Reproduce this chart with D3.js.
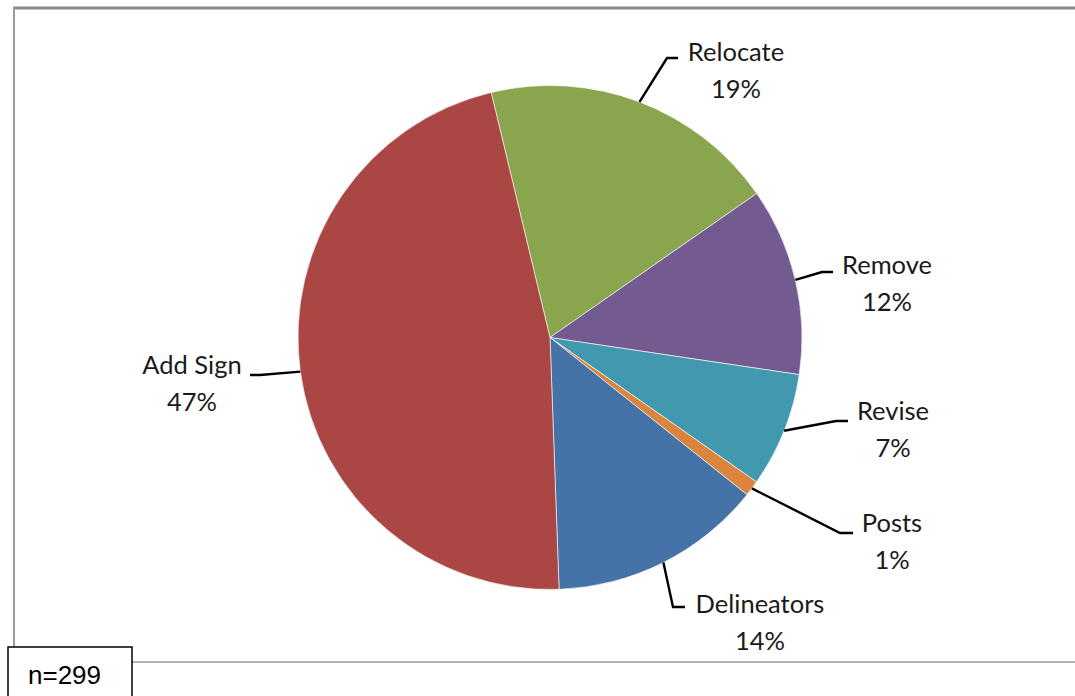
<!DOCTYPE html>
<html><head><meta charset="utf-8">
<script src="https://cdn.jsdelivr.net/npm/d3@7"></script>
<style>body{margin:0;background:#fff}svg{display:block}</style>
</head><body>
<svg id="c" width="1075" height="696"></svg>
<script>
const categories = ["Relocate","Remove","Revise","Posts","Delineators","Add Sign"];
const counts = [57,36,22,3,41,140];
const percentLabels = ["19%","12%","7%","1%","14%","47%"];
const colors = ["#89A54E","#735A90","#4198AF","#DB843D","#4572A7","#AA4643"];
const sampleLabel = "n=299";

const svg = d3.select("#c");
const W=1075,H=696;
// frame
svg.append("line").attr("x1",13).attr("x2",W).attr("y1",8).attr("y2",8).attr("stroke","#8a8a8a").attr("stroke-width",3);
svg.append("line").attr("x1",14).attr("x2",14).attr("y1",7).attr("y2",662).attr("stroke","#9a9a9a").attr("stroke-width",2);
svg.append("line").attr("x1",14).attr("x2",W).attr("y1",662).attr("y2",662).attr("stroke","#9a9a9a").attr("stroke-width",1.5);

const cx=550, cy=337.5, r=252;
const start = -13.5*Math.PI/180;
const pie = d3.pie().sort(null).value(d=>d).startAngle(start).endAngle(start+2*Math.PI);
const arcs = pie(counts);
const arc = d3.arc().innerRadius(0).outerRadius(r);
const g = svg.append("g").attr("transform",`translate(${cx},${cy})`);
g.selectAll("path").data(arcs).enter().append("path")
  .attr("d",arc).attr("fill",(d,i)=>colors[i]).attr("stroke","#fff").attr("stroke-width",0.6);

// label layout (text center x, first line y center), leader points
const labelPos = [
  {x:736, y:52, pts:[[678,58],[667,58]]},
  {x:887, y:265, pts:[[833,272],[822,272]]},
  {x:893, y:411, pts:[[848,421],[836,421]]},
  {x:892, y:523, pts:[[853,533],[840,533]]},
  {x:760, y:604, pts:[[685,607],[673,607]]},
  {x:192, y:365, pts:[[250,375],[260,375]]}
];
const lab = svg.append("g");
arcs.forEach((a,i)=>{
  const mid=(a.startAngle+a.endAngle)/2;
  const ex=cx+r*Math.sin(mid), ey=cy-r*Math.cos(mid);
  const p=labelPos[i];
  const pts=[p.pts[0],p.pts[1],[ex,ey]];
  lab.append("path").attr("d",d3.line()(pts)).attr("fill","none").attr("stroke","#000").attr("stroke-width",2.4);
  lab.append("text").attr("x",p.x).attr("y",p.y).attr("dy","0.35em").attr("text-anchor","middle")
    .attr("font-family","Lato, 'Open Sans', sans-serif").attr("font-size",25.5).attr("fill","#1a1a1a").text(categories[i]);
  lab.append("text").attr("x",p.x).attr("y",p.y+37).attr("dy","0.35em").attr("text-anchor","middle")
    .attr("font-family","Lato, 'Open Sans', sans-serif").attr("font-size",25.5).attr("fill","#1a1a1a").text(percentLabels[i]);
});

// n box
svg.append("rect").attr("x",8).attr("y",647).attr("width",124).attr("height",60).attr("fill","#fff").attr("stroke","#000").attr("stroke-width",1.5);
svg.append("text").attr("x",28).attr("y",684).attr("font-family","Arial, 'Liberation Sans', sans-serif").attr("font-size",26).attr("fill","#000").text(sampleLabel);
</script>
</body></html>
